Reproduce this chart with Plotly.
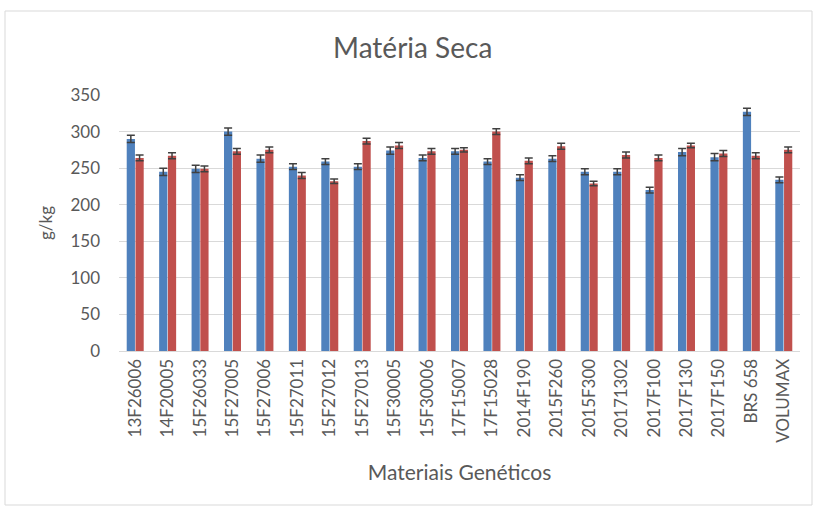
import plotly.graph_objects as go

categories = ["13F26006", "14F20005", "15F26033", "15F27005", "15F27006", "15F27011",
              "15F27012", "15F27013", "15F30005", "15F30006", "17F15007", "17F15028",
              "2014F190", "2015F260", "2015F300", "20171302", "2017F100", "2017F130",
              "2017F150", "BRS 658", "VOLUMAX"]
serie1 = [290, 245, 249, 300, 263, 252, 259, 252, 274, 264, 273, 259,
          237, 263, 245, 245, 220, 272, 265, 327, 234]
serie2 = [264, 267, 249, 273, 275, 240, 232, 287, 281, 273, 275, 300,
          260, 280, 229, 268, 264, 281, 270, 267, 275]
erro1 = [5, 5, 5, 5, 5, 4, 4, 4, 5, 4, 4, 4, 4, 4, 4, 4, 4, 5, 5, 5, 4]
erro2 = [4, 4, 4, 4, 4, 4, 3, 4, 4, 4, 3, 4, 4, 4, 3, 4, 4, 3, 4, 4, 4]

fig = go.Figure()
for vals, err, col in [(serie1, erro1, "#4F81BD"), (serie2, erro2, "#C0504D")]:
    fig.add_trace(go.Bar(
        x=categories, y=vals, marker_color=col,
        marker_line_width=0,
        error_y=dict(type="data", array=err, visible=True, color="#404040",
                     thickness=1.5, width=4),
        showlegend=False))

fig.update_layout(
    width=814, height=506,
    margin=dict(l=119, r=14, t=95, b=155),
    paper_bgcolor="white", plot_bgcolor="white",
    barmode="group", bargap=0.46, bargroupgap=0.06,
    title=dict(text="Matéria Seca", x=0.507, xanchor="center", y=1 - 48 / 506, yanchor="middle",
               font=dict(family="Lato", size=28, color="#595959")),
    font=dict(family="Lato", color="#595959"),
    xaxis=dict(tickangle=-90, tickfont=dict(family="Lato", size=17, color="#595959"),
               showline=True, linecolor="#D9D9D9", linewidth=1,
               title=dict(text="Materiais Genéticos", font=dict(family="Lato", size=21, color="#595959"),
                          standoff=23)),
    yaxis=dict(range=[0, 350], dtick=50, showgrid=True, gridcolor="#D9D9D9", gridwidth=1,
               zeroline=False, tickfont=dict(family="Lato", size=17, color="#595959"),
               ticklabelstandoff=18,
               title=dict(text="g/kg", font=dict(family="Lato", size=17, color="#595959"), standoff=13)),
    shapes=[dict(type="rect", xref="paper", yref="paper",
                 x0=(5 - 119) / 681, x1=(812 - 119) / 681, y0=(351 - 505) / 256, y1=(351 - 11) / 256,
                 line=dict(color="#D9D9D9", width=1), fillcolor="rgba(0,0,0,0)", layer="below")],
)

fig.write_html("out.html", config={"displayModeBar": False},
               post_script="document.body.style.margin='0';")
